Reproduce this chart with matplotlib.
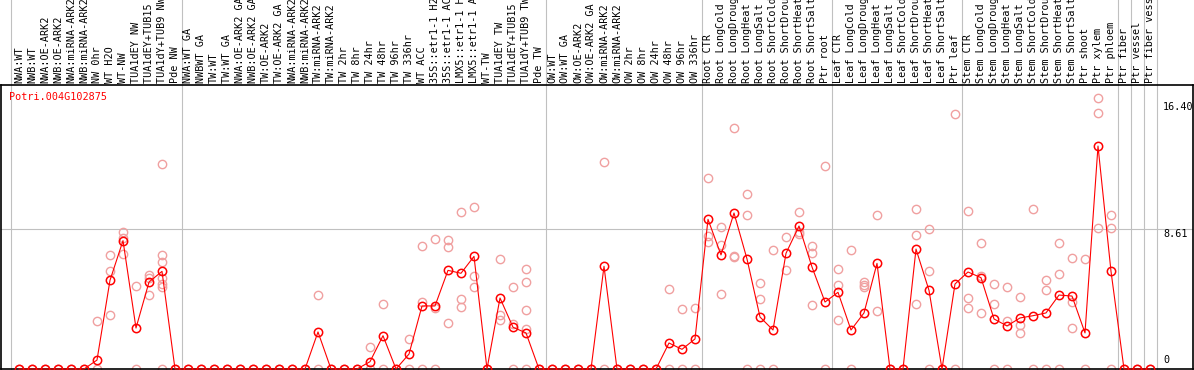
import matplotlib
matplotlib.use("Agg")
import matplotlib.pyplot as plt
from matplotlib.transforms import blended_transform_factory

# sample names (top labels)
samples = [
    "NWA:WT", "NWB:WT", "NWA:OE-ARK2", "NWB:OE-ARK2", "NWA:miRNA-ARK2", "NWB:miRNA-ARK2",
    "NW 0hr", "WT H2O", "WT-NW", "TUA1dEY NW", "TUA1dEY+TUB15 NW", "TUA1dY+TUB9 NW", "Pde NW",
    "NWA:WT GA", "NWBWT GA", "TW:WT", "TW:WT GA", "NWA:OE-ARK2 GA", "NWB:OE-ARK2 GA",
    "TW:OE-ARK2", "TW:OE-ARK2 GA", "NWA:miRNA-ARK2", "NWB:miRNA-ARK2", "TW:miRNA-ARK2",
    "TW:miRNA-ARK2", "TW 2hr", "TW 8hr", "TW 24hr", "TW 48hr", "TW 96hr", "TW 336hr", "WT ACC",
    "35S::etr1-1 H2O", "35S::etr1-1 ACC", "LMX5::etr1-1 H2O", "LMX5::etr1-1 ACC", "WT-TW",
    "TUA1dEY TW", "TUA1dEY+TUB15 TW", "TUA1dY+TUB9 TW", "Pde TW",
    "OW:WT", "OW:WT GA", "OW:OE-ARK2", "OW:OE-ARK2 GA", "OW:miRNA-ARK2", "OW:miRNA-ARK2",
    "OW 2hr", "OW 8hr", "OW 24hr", "OW 48hr", "OW 96hr", "OW 336hr",
    "Root CTR", "Root LongCold", "Root LongDrought", "Root LongHeat", "Root LongSalt",
    "Root ShortCold", "Root ShortDrought", "Root ShortHeat", "Root ShortSalt", "Ptr root",
    "Leaf CTR", "Leaf LongCold", "Leaf LongDrought", "Leaf LongHeat", "Leaf LongSalt",
    "Leaf ShortCold", "Leaf ShortDrought", "Leaf ShortHeat", "Leaf ShortSalt", "Ptr leaf",
    "Stem CTR", "Stem LongCold", "Stem LongDrought", "Stem LongHeat", "Stem LongSalt",
    "Stem ShortCold", "Stem ShortDrought", "Stem ShortHeat", "Stem ShortSalt", "Ptr shoot",
    "Ptr xylem", "Ptr phloem", "Ptr fiber", "Ptr vessel", "Ptr fiber vessel",
]

# mean expression per sample
means = [
    0, 0, 0, 0, 0, 0, 0.55, 5.46, 7.9, 2.52, 5.35, 6.01, 0,
    0, 0, 0, 0, 0, 0, 0, 0, 0, 0, 2.28, 0, 0, 0, 0.45, 2.05, 0, 0.92,
    3.88, 3.88, 6.07, 5.89, 6.93, 0, 4.37, 2.57, 2.22, 0,
    0, 0, 0, 0, 6.32, 0, 0, 0, 0, 1.6, 1.21, 1.85,
    9.21, 7.02, 9.6, 6.77, 3.2, 2.4, 7.12, 8.8, 6.28, 4.12,
    4.72, 2.4, 3.45, 6.5, 0, 0, 7.38, 4.84, 0, 5.23,
    5.97, 5.62, 3.08, 2.65, 3.14, 3.28, 3.45, 4.55, 4.49, 2.22,
    13.72, 6.01, 0, 0, 0,
]

# replicate values per sample
reps = [
    [0], [0], [0], [0], [0], [0], [2.93, 0], [7.0, 6.03, 3.32], [8.43, 8.06, 7.06],
    [5.09, 0], [5.78, 5.58, 4.53], [12.6, 7.0, 6.56, 5.58, 5.21, 5.05, 0], [0],
    [0], [0], [0], [0], [0], [0], [0], [0], [0], [0], [4.53, 0], [0], [0], [0],
    [1.33, 0], [4.0, 0], [0], [1.83, 0], [7.55, 4.12, 0], [7.98, 3.73, 0],
    [7.92, 7.49, 2.83], [9.64, 4.31, 3.8], [9.95, 5.7, 5.05], [0], [6.77, 3.32, 3.0],
    [5.05, 2.79, 0], [6.15, 5.35, 3.63, 2.46, 0], [0],
    [0], [0], [0], [0], [12.72, 0], [0], [0], [0], [0], [4.92, 0], [3.69, 0], [3.75, 0],
    [11.73, 8.18, 7.8], [8.72, 7.63, 4.59], [14.81, 6.97, 6.9], [10.75, 9.48, 0],
    [5.27, 4.31, 0], [7.32, 0], [8.1, 6.07], [9.66, 8.33, 8.45], [7.57, 7.16, 3.94],
    [12.49, 0],
    [6.15, 5.17, 3.0], [7.32, 0], [5.37, 5.05, 5.2], [9.48, 3.55], [0], [0],
    [9.83, 8.23, 4.0], [8.62, 6.03, 0], [0], [15.69, 0],
    [9.72, 4.37, 3.75], [7.73, 5.7, 3.45], [5.21, 4.0, 0], [5.05, 2.95, 0],
    [4.43, 2.71, 2.22], [9.83, 0], [5.48, 4.86, 0], [7.73, 5.83, 0], [6.83, 4.1, 2.52],
    [6.77, 0],
    [16.66, 15.73, 8.66], [9.46, 8.66, 0], [0], [0], [0],
]

# group separators (between samples)
separators = [-0.6, 12.5, 40.5, 52.5, 62.5, 72.5, 84.5, 85.5, 86.5, 87.5]
gene = "Potri.004G102875"

W, H = 1194, 370
fig = plt.figure(figsize=(W / 100, H / 100), dpi=100)
ax = fig.add_axes([1 / W, 1 / H, 1192 / W, 284 / H])

ax.set_xlim((1 - 19) / 13, (1193 - 19) / 13)
ax.set_ylim(0, 284 / 16.25)
ax.set_xticks([])
ax.set_yticks([])
for s in ax.spines.values():
    s.set_color("black")
    s.set_linewidth(1.2)

mono = "DejaVu Sans Mono"
fs = 7.3

# vertical separators running up through the label area
trans_fig = blended_transform_factory(ax.transData, fig.transFigure)
for sx in separators:
    ax.plot([sx, sx], [0, 1], transform=trans_fig, color="#c0c0c0", lw=0.8,
            clip_on=False, zorder=0)
ax.axhline(8.61, color="#c0c0c0", lw=0.8, zorder=0)

# replicates
for i, vals in enumerate(reps):
    ax.plot([i] * len(vals), vals, "o", mfc="none", mec="#f0a0a0", ms=6, mew=1,
            clip_on=False, zorder=2)

# means
x = list(range(len(means)))
ax.plot(x, means, "-", color="red", lw=0.8, zorder=3, clip_on=False)
ax.plot(x, means, "o", mfc="none", mec="red", ms=6, mew=1.1, zorder=4, clip_on=False)

# sample labels
for i, name in enumerate(samples):
    ax.text(i, (H - 83) / H, name, transform=trans_fig, rotation=90,
            ha="center", va="bottom", fontsize=fs, family=mono, color="black")

# right-side value labels
ax.text(88.0, 16.40, "16.40", ha="left", va="top", fontsize=fs, family=mono)
ax.text(88.0, 8.61, "8.61", ha="left", va="top", fontsize=fs, family=mono)
ax.text(88.0, 0.25, "0", ha="left", va="bottom", fontsize=fs, family=mono)

ax.text(8 / 1192, (369 - 92) / 284, gene, transform=ax.transAxes, ha="left",
        va="top", fontsize=fs, family=mono, color="red")

fig.savefig("out.png", dpi=100)
